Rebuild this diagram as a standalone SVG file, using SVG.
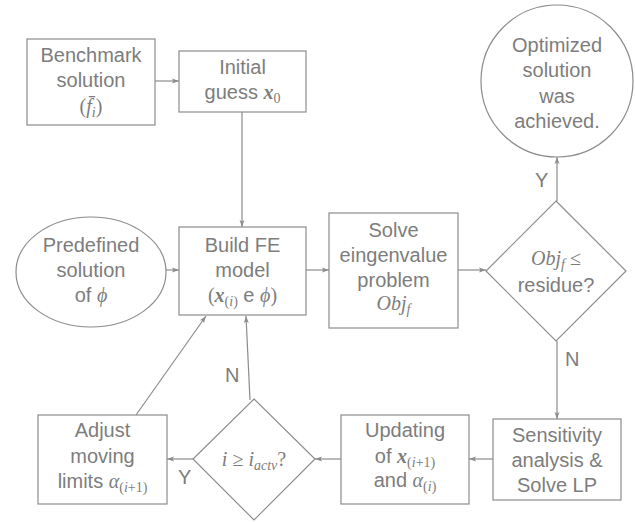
<svg xmlns="http://www.w3.org/2000/svg" width="635" height="522" viewBox="0 0 635 522">
<style>
.n{fill:#fff;stroke:#8c8c8c;stroke-width:1.2}
.t{font-family:"Liberation Sans",Arial,sans-serif;font-size:20px;fill:#7d7d7d;text-anchor:middle}
.m{font-family:"Liberation Serif","Times New Roman",serif;font-style:italic}
.u{font-family:"Liberation Serif","Times New Roman",serif;font-style:normal}
.b{font-weight:bold}
.s{font-size:14px}
.c{stroke:#8c8c8c;stroke-width:1.2;fill:none;marker-end:url(#a)}
.l{font-family:"Liberation Sans",Arial,sans-serif;font-size:20px;fill:#7d7d7d}
</style>
<defs>
<marker id="a" viewBox="0 0 10 10" refX="10" refY="5" markerWidth="7" markerHeight="7" markerUnits="userSpaceOnUse" orient="auto">
<path d="M0,1.5 L10,5 L0,8.5 L2,5 Z" fill="#8c8c8c"/>
</marker>
</defs>
<rect width="635" height="522" fill="#fff"/>
<g id="connectors">
<line class="c" x1="155" y1="81" x2="179" y2="81"/>
<line class="c" x1="242" y1="112" x2="242" y2="227"/>
<line class="c" x1="166" y1="270" x2="179" y2="270"/>
<line class="c" x1="306" y1="270" x2="329" y2="270"/>
<line class="c" x1="458" y1="270" x2="486" y2="270"/>
<line class="c" x1="557" y1="201" x2="557" y2="157"/>
<line class="c" x1="557" y1="341" x2="557" y2="419"/>
<line class="c" x1="493" y1="459" x2="469" y2="459"/>
<line class="c" x1="341" y1="459" x2="315" y2="459"/>
<line class="c" x1="193" y1="459" x2="167" y2="459"/>
<line class="c" x1="250" y1="400" x2="246" y2="316"/>
<line class="c" x1="136" y1="415" x2="206" y2="316"/>
<text class="l" x="535" y="187">Y</text>
<text class="l" x="565" y="366">N</text>
<text class="l" x="178" y="484">Y</text>
<text class="l" x="225" y="382">N</text>
</g>
<g id="benchmark">
<rect class="n" x="27" y="39" width="128" height="86"/>
<text class="t" x="91" y="62">Benchmark</text>
<text class="t" x="91" y="87">solution</text>
<text class="t" x="91" y="113"><tspan class="u">(</tspan><tspan class="m">f̄<tspan class="s" dy="4">i</tspan></tspan><tspan class="u" dy="-4">)</tspan></text>
</g>
<g id="initial">
<rect class="n" x="179" y="51" width="127" height="61"/>
<text class="t" x="242.5" y="74">Initial</text>
<text class="t" x="242.5" y="99">guess <tspan class="m b">x</tspan><tspan class="u s" dy="4">0</tspan></text>
</g>
<g id="optimized">
<circle class="n" cx="557" cy="81" r="76"/>
<text class="t" x="557" y="52">Optimized</text>
<text class="t" x="557" y="77">solution</text>
<text class="t" x="557" y="103">was</text>
<text class="t" x="557" y="128">achieved.</text>
</g>
<g id="predefined">
<ellipse class="n" cx="91" cy="272" rx="75" ry="55"/>
<text class="t" x="91" y="252">Predefined</text>
<text class="t" x="91" y="277">solution</text>
<text class="t" x="91" y="302">of <tspan class="m">ϕ</tspan></text>
</g>
<g id="buildfe">
<rect class="n" x="179" y="227" width="127" height="88"/>
<text class="t" x="242.5" y="252">Build FE</text>
<text class="t" x="242.5" y="277">model</text>
<text class="t" x="242.5" y="302"><tspan class="u">(</tspan><tspan class="m b">x</tspan><tspan class="u s" dy="4">(</tspan><tspan class="m s">i</tspan><tspan class="u s">)</tspan><tspan dy="-4"> e </tspan><tspan class="m">ϕ</tspan><tspan class="u">)</tspan></text>
</g>
<g id="solve">
<rect class="n" x="329" y="213" width="129" height="115"/>
<text class="t" x="393.5" y="237">Solve</text>
<text class="t" x="393.5" y="262">eingenvalue</text>
<text class="t" x="393.5" y="287">problem</text>
<text class="t m" x="393.5" y="310">Obj<tspan class="s" dy="4">f</tspan></text>
</g>
<g id="check">
<polygon class="n" points="556,201 626,271 556,341 486,271"/>
<text class="t" x="556" y="265"><tspan class="m">Obj</tspan><tspan class="m s" dy="4">f</tspan><tspan class="u" dy="-4"> ≤</tspan></text>
<text class="t" x="556" y="292">residue?</text>
</g>
<g id="sensitivity">
<rect class="n" x="493" y="419" width="128" height="81"/>
<text class="t" x="557" y="442">Sensitivity</text>
<text class="t" x="557" y="467">analysis &amp;</text>
<text class="t" x="557" y="492">Solve LP</text>
</g>
<g id="updating">
<rect class="n" x="341" y="415" width="128" height="89"/>
<text class="t" x="405" y="437">Updating</text>
<text class="t" x="405" y="463">of <tspan class="m b">x</tspan><tspan class="u s" dy="4">(</tspan><tspan class="m s">i</tspan><tspan class="u s">+1)</tspan></text>
<text class="t" x="405" y="487">and <tspan class="m">α</tspan><tspan class="u s" dy="4">(</tspan><tspan class="m s">i</tspan><tspan class="u s">)</tspan></text>
</g>
<g id="activecheck">
<polygon class="n" points="254,399 315,459 254,520 193,459"/>
<text class="t" x="254" y="466"><tspan class="m">i</tspan><tspan class="u"> ≥ </tspan><tspan class="m">i</tspan><tspan class="m s" dy="4">actv</tspan><tspan class="u" dy="-4">?</tspan></text>
</g>
<g id="adjust">
<rect class="n" x="38" y="415" width="129" height="89"/>
<text class="t" x="102.5" y="437">Adjust</text>
<text class="t" x="102.5" y="463">moving</text>
<text class="t" x="102.5" y="488">limits <tspan class="m">α</tspan><tspan class="u s" dy="4">(</tspan><tspan class="m s">i</tspan><tspan class="u s">+1)</tspan></text>
</g>
</svg>
